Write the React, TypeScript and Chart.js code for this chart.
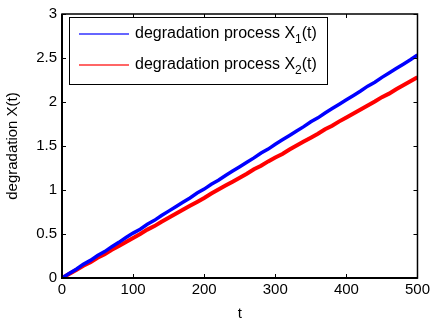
import React, { useEffect, useRef } from "react";
import { Chart, registerables } from "chart.js";

Chart.register(...registerables);

const tValues = [0,10,20,30,40,50,60,70,80,90,100,110,120,130,140,150,160,170,180,190,200,210,220,230,240,250,260,270,280,290,300,310,320,330,340,350,360,370,380,390,400,410,420,430,440,450,460,470,480,490,500];
const x1Values = [0,0.05,0.1,0.155,0.2,0.255,0.3,0.355,0.405,0.46,0.51,0.555,0.61,0.655,0.71,0.76,0.81,0.86,0.91,0.965,1.01,1.065,1.11,1.165,1.215,1.265,1.315,1.365,1.42,1.465,1.52,1.57,1.62,1.67,1.72,1.775,1.82,1.875,1.925,1.975,2.025,2.075,2.125,2.18,2.225,2.28,2.33,2.38,2.43,2.48,2.535];
const x2Values = [0,0.045,0.09,0.14,0.18,0.23,0.27,0.32,0.365,0.41,0.455,0.5,0.55,0.59,0.64,0.685,0.73,0.775,0.82,0.865,0.91,0.96,1.005,1.05,1.095,1.14,1.185,1.235,1.275,1.325,1.37,1.41,1.46,1.505,1.55,1.595,1.64,1.69,1.73,1.78,1.825,1.87,1.915,1.96,2.005,2.055,2.095,2.145,2.19,2.235,2.28];
const seriesNames = ["degradation process X", "degradation process X"];
const seriesSubs = ["1", "2"];
const legendLineColors = ["rgba(0,0,255,0.6)", "rgba(255,0,0,0.6)"];
const xTicks = [0, 100, 200, 300, 400, 500];
const yTicks = [0, 0.5, 1, 1.5, 2, 2.5, 3];

const FONT = "'Liberation Sans', Arial, sans-serif";

const framePlugin = {
  id: "frame",
  afterDraw(chart: any) {
    const { ctx, chartArea: a, scales } = chart;
    const xs = scales.x, ys = scales.y;
    ctx.save();
    ctx.strokeStyle = "#000";
    ctx.lineWidth = 1.5;
    ctx.strokeRect(a.left, a.top, a.right - a.left, a.bottom - a.top);
    ctx.lineWidth = 2;
    ctx.beginPath();
    ctx.moveTo(a.left, a.top);
    ctx.lineTo(a.left, a.bottom);
    ctx.lineTo(a.right, a.bottom);
    ctx.stroke();
    ctx.lineWidth = 1;
    const tl = 4;
    ctx.beginPath();
    xTicks.forEach((v) => {
      const px = Math.round(xs.getPixelForValue(v)) + 0.5;
      ctx.moveTo(px, a.bottom);
      ctx.lineTo(px, a.bottom - tl);
      ctx.moveTo(px, a.top);
      ctx.lineTo(px, a.top + tl);
    });
    yTicks.forEach((v) => {
      const py = Math.round(ys.getPixelForValue(v)) + 0.5;
      ctx.moveTo(a.left, py);
      ctx.lineTo(a.left + tl, py);
      ctx.moveTo(a.right, py);
      ctx.lineTo(a.right - tl, py);
    });
    ctx.stroke();

    // legend
    const bx = a.left + 7, by = a.top + 3, bw = 258, bh = 67;
    ctx.fillStyle = "#fff";
    ctx.fillRect(bx, by, bw, bh);
    ctx.strokeStyle = "#000";
    ctx.lineWidth = 1;
    ctx.strokeRect(bx + 0.5, by + 0.5, bw, bh);
    const rows = [by + 17, by + 48];
    chart.data.datasets.forEach((ds: any, i: number) => {
      const y = rows[i];
      ctx.strokeStyle = legendLineColors[i];
      ctx.lineWidth = 2;
      ctx.beginPath();
      ctx.moveTo(bx + 10, y);
      ctx.lineTo(bx + 60, y);
      ctx.stroke();
      ctx.fillStyle = "#000";
      ctx.textBaseline = "middle";
      ctx.textAlign = "left";
      ctx.font = `16px ${FONT}`;
      let tx = bx + 66;
      ctx.fillText(seriesNames[i], tx, y);
      tx += ctx.measureText(seriesNames[i]).width;
      ctx.font = `12px ${FONT}`;
      ctx.fillText(seriesSubs[i], tx, y + 6);
      tx += ctx.measureText(seriesSubs[i]).width;
      ctx.font = `16px ${FONT}`;
      ctx.fillText("(t)", tx, y);
    });
    ctx.restore();
  },
};

export default function App() {
  const ref = useRef<HTMLCanvasElement>(null);
  useEffect(() => {
    document.body.style.margin = "0";
    const chart = new Chart(ref.current!, {
      type: "line",
      data: {
        datasets: [
          {
            label: seriesNames[0] + seriesSubs[0] + "(t)",
            data: tValues.map((t, i) => ({ x: t, y: x1Values[i] })),
            borderColor: "#0000ff",
            borderWidth: 3.5,
            pointRadius: 0,
            tension: 0,
          },
          {
            label: seriesNames[1] + seriesSubs[1] + "(t)",
            data: tValues.map((t, i) => ({ x: t, y: x2Values[i] })),
            borderColor: "#ff0000",
            borderWidth: 4,
            pointRadius: 0,
            tension: 0,
          },
        ],
      },
      options: {
        responsive: false,
        animation: false,
        layout: { padding: { top: 13, right: 14, left: 0, bottom: 0 } },
        plugins: { legend: { display: false }, tooltip: { enabled: false } },
        scales: {
          x: {
            type: "linear",
            min: 0,
            max: 500,
            afterBuildTicks: (s: any) => { s.ticks = xTicks.map((v) => ({ value: v })); },
            afterFit: (s: any) => { s.height = 42; },
            grid: { display: false, drawTicks: false },
            border: { display: false },
            ticks: { color: "#000", font: { family: FONT, size: 15 }, padding: 3, maxRotation: 0, callback: (v: any) => String(v) },
            title: { display: true, text: "t", color: "#000", font: { family: FONT, size: 15 }, padding: { top: 0, bottom: -3 } },
          },
          y: {
            type: "linear",
            min: 0,
            max: 3,
            afterBuildTicks: (s: any) => { s.ticks = yTicks.map((v) => ({ value: v })); },
            afterFit: (s: any) => { s.width = 62; },
            grid: { display: false, drawTicks: false },
            border: { display: false },
            ticks: { color: "#000", font: { family: FONT, size: 15 }, padding: 5, callback: (v: any) => String(v) },
            title: { display: true, text: "degradation X(t)", color: "#000", font: { family: FONT, size: 15 }, padding: { top: 4, bottom: 0 } },
          },
        },
      },
      plugins: [framePlugin],
    });
    return () => chart.destroy();
  }, []);
  return <canvas ref={ref} width={433} height={320} style={{ display: "block" }} />;
}
